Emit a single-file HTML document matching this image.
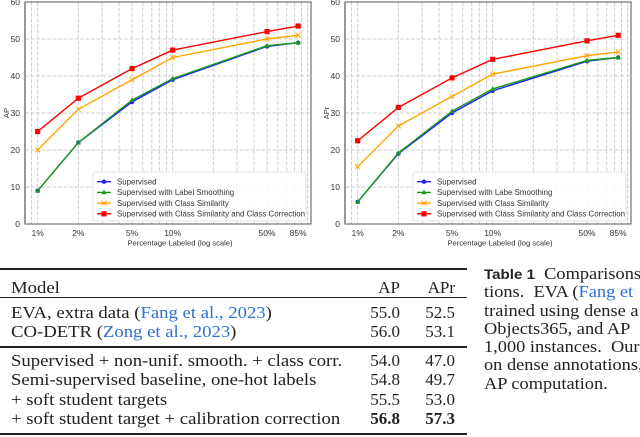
<!DOCTYPE html>
<html><head><meta charset="utf-8">
<style>
body{margin:0;width:640px;height:437px;background:#fff;overflow:hidden;position:relative;font-family:"Liberation Serif",serif;}
svg{position:absolute;left:0;top:0}
.t{position:absolute;font-size:17px;color:#222;white-space:nowrap;line-height:19px;transform-origin:0 50%}
.w{transform:scaleX(1.1)}
.r{text-align:right}
.lk{color:#2f6fd8}
.hl{position:absolute;background:#222;left:0;width:467px}
.cap{position:absolute;left:484px;font-size:17px;color:#222;white-space:nowrap;line-height:18.3px;transform:scaleX(1.08);transform-origin:0 0}
</style></head><body>
<svg id="chart" width="640" height="260"></svg>

<div class="hl" style="top:268px;height:2px"></div>
<div class="t w" style="left:11px;top:278px">Model</div>
<div class="t r" style="left:340px;width:60px;top:278px">AP</div>
<div class="t r" style="left:400px;width:55px;top:278px">APr</div>
<div class="hl" style="top:297px;height:1px"></div>
<div class="t w" style="left:11px;top:303px">EVA, extra data (<span class="lk">Fang et al., 2023</span>)</div>
<div class="t r" style="left:340px;width:60px;top:303px">55.0</div>
<div class="t r" style="left:400px;width:55px;top:303px">52.5</div>
<div class="t w" style="left:11px;top:322px">CO-DETR (<span class="lk">Zong et al., 2023</span>)</div>
<div class="t r" style="left:340px;width:60px;top:322px">56.0</div>
<div class="t r" style="left:400px;width:55px;top:322px">53.1</div>
<div class="hl" style="top:346px;height:2px"></div>
<div class="t w" style="left:11px;top:351px">Supervised + non-unif. smooth. + class corr.</div>
<div class="t r" style="left:340px;width:60px;top:351px">54.0</div>
<div class="t r" style="left:400px;width:55px;top:351px">47.0</div>
<div class="t w" style="left:11px;top:370px">Semi-supervised baseline, one-hot labels</div>
<div class="t r" style="left:340px;width:60px;top:370px">54.8</div>
<div class="t r" style="left:400px;width:55px;top:370px">49.7</div>
<div class="t w" style="left:11px;top:390px">+ soft student targets</div>
<div class="t r" style="left:340px;width:60px;top:390px">55.5</div>
<div class="t r" style="left:400px;width:55px;top:390px">53.0</div>
<div class="t w" style="left:11px;top:409px">+ soft student target + calibration correction</div>
<div class="t r" style="left:340px;width:60px;top:409px;font-weight:bold">56.8</div>
<div class="t r" style="left:400px;width:55px;top:409px;font-weight:bold">57.3</div>
<div class="hl" style="top:433px;height:2px"></div>

<div class="cap" style="top:265px"><span style="font-family:'Liberation Sans',sans-serif;font-weight:bold;font-size:14px">Table 1</span>&nbsp; Comparisons<br>tions.&nbsp; EVA (<span class="lk">Fang et</span><br>trained using dense a<br>Objects365, and AP<br>1,000 instances.&nbsp; Our<br>on dense annotations,<br>AP computation.</div>

<script>
const categories=[1,2,5,10,50,85];
const seriesNames=["Supervised","Supervised with Label Smoothing","Supervised with Class Similarity","Supervised with Class Similarity and Class Correction"];
const legendNamesRight=["Supervised","Supervised with Labe  Smoothing","Supervised with Class Similarity","Supervised with Class Similarity and Class Correction"];
const apSupervised=[9,22,33,39,48,49];
const apLabelSmooth=[9,22,33.5,39.3,48.2,49];
const apClassSim=[20,31,39,45,50,51];
const apClassCorr=[25,34,42,47,52,53.5];
const aprSupervised=[6,19,30,36,44,45];
const aprLabelSmooth=[6,19.2,30.5,36.5,44.2,45];
const aprClassSim=[15.5,26.5,34.5,40.5,45.5,46.5];
const aprClassCorr=[22.5,31.5,39.5,44.5,49.5,51];
const yTicks=[0,10,20,30,40,50,60];
const xTickLabels=["1%","2%","5%","10%","50%","85%"];

const NS="http://www.w3.org/2000/svg";
const svg=document.getElementById('chart');
const colors=["#1f1fff","#1a9a1a","#ffa500","#ff0000"];
function mk(tag,attrs,parent){const e=document.createElementNS(NS,tag);for(const k in attrs)e.setAttribute(k,attrs[k]);(parent||svg).appendChild(e);return e;}

function drawChart(ox,series,ylab,legendNames,nm){
  const g=mk('g',{transform:`translate(${ox},0)`});
  
  
  const L=25,R=311,T=2,B=224,x0=37.7,dec=135;
  const xs=v=>x0+Math.log10(v)*dec;
  const ys=v=>B-(v/60)*(B-T);
  const gl=[0.9];for(let d=1;d<=10;d*=10)for(let k=1;k<=9;k++)gl.push(k*d);gl.push(100);
  gl.forEach(v=>{const x=xs(v);if(x>L&&x<R){const l=mk('line',{x1:x,x2:x,y1:T,y2:B,stroke:'#cfcfcf','stroke-width':1,'stroke-dasharray':'4,1.5'},g);}});
  yTicks.forEach(v=>{
    const y=ys(v);
    if(v>0){const l=mk('line',{x1:L,x2:R,y1:y,y2:y,stroke:'#cfcfcf','stroke-width':1,'stroke-dasharray':'4,1.5'},g);}
    const t=mk('text',{x:L-5,y:y+3,'text-anchor':'end','font-size':8.5,'font-family':'Liberation Sans,sans-serif',fill:'#333'},g);t.textContent=v;
    
  });
  categories.forEach((c,i)=>{const t=mk('text',{x:xs(c),y:B+12,'text-anchor':'middle','font-size':8.5,'font-family':'Liberation Sans,sans-serif',fill:'#333'},g);t.textContent=xTickLabels[i];});
  mk('rect',{x:L,y:T,width:R-L,height:B-T,fill:'none',stroke:'#555','stroke-width':1},g);
  mk('line',{x1:L,x2:L,y1:T,y2:B,stroke:'#999','stroke-width':2},g);
  const xl=mk('text',{x:(L+R)/2+12,y:B+21.5,'text-anchor':'middle','font-size':7.6,'font-family':'Liberation Sans,sans-serif',fill:'#333'},g);xl.textContent='Percentage Labeled (log scale)';
  
  const yl=mk('text',{x:0,y:0,transform:`translate(9,${(T+B)/2}) rotate(-90)`,'text-anchor':'middle','font-size':7.6,'font-family':'Liberation Sans,sans-serif',fill:'#333'},g);yl.textContent=ylab;
  
  series.forEach((s,si)=>{
    const col=colors[si];
    const pts=s.map((v,i)=>xs(categories[i])+','+ys(v)).join(' ');
    const p=mk('polyline',{points:pts,fill:'none',stroke:col,'stroke-width':1.4},g);
    
    s.forEach((v,i)=>marker(g,si,xs(categories[i]),ys(v),col));
  });
  const lg=mk('g',{},g);
  mk('rect',{x:93,y:172,width:213,height:49,rx:2,fill:'#fff','fill-opacity':0.85,stroke:'#ddd','stroke-width':0.8},lg);
  legendNames.forEach((n,i)=>{
    const y=181.7+i*10.7;
    mk('line',{x1:97,x2:111,y1:y,y2:y,stroke:colors[i],'stroke-width':1.4},lg);
    marker(lg,i,104,y,colors[i]);
    const t=mk('text',{x:117,y:y+2.8,'font-size':7.9,'font-family':'Liberation Sans,sans-serif',fill:'#333',textLength:n.length>40?188:null},lg);t.textContent=n;
    if(!(n.length>40))t.removeAttribute('textLength');
    
  });
}
function marker(g,si,x,y,col){
  let m;
  if(si==0)m=mk('circle',{cx:x,cy:y,r:2.2,fill:col},g);
  else if(si==1)m=mk('polygon',{points:`${x},${y-2.7} ${x-2.6},${y+1.9} ${x+2.6},${y+1.9}`,fill:col},g);
  else if(si==2){m=mk('path',{d:`M${x-2.4},${y-2.4}L${x+2.4},${y+2.4}M${x-2.4},${y+2.4}L${x+2.4},${y-2.4}`,stroke:col,'stroke-width':1},g);}
  else m=mk('rect',{x:x-2.6,y:y-2.6,width:5.2,height:5.2,fill:col},g);
  
  
}
drawChart(0,[apSupervised,apLabelSmooth,apClassSim,apClassCorr],'AP',seriesNames,'ap-chart');
drawChart(320,[aprSupervised,aprLabelSmooth,aprClassSim,aprClassCorr],'APr',legendNamesRight,'apr-chart');
</script>
</body></html>
